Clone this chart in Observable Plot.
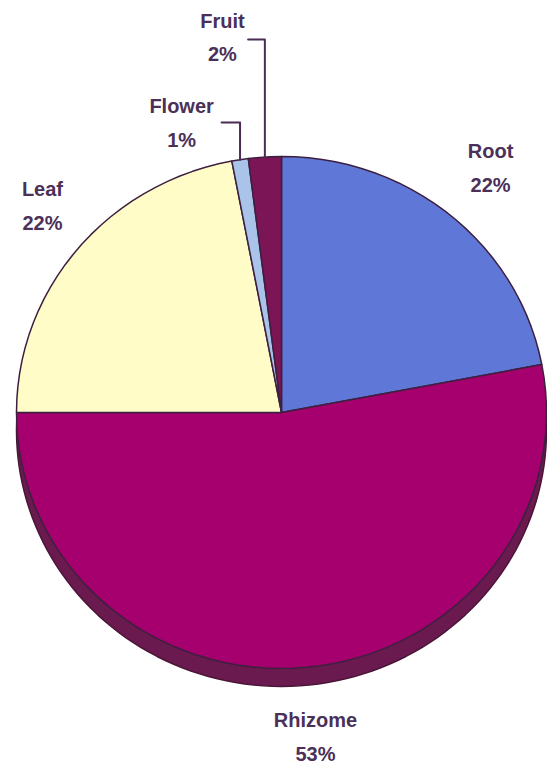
<!DOCTYPE html>
<html>
<head>
<meta charset="utf-8">
<script src="https://cdn.jsdelivr.net/npm/d3@7"></script>
<script src="https://cdn.jsdelivr.net/npm/@observablehq/plot@0.6"></script>
<style>
  html, body { margin: 0; padding: 0; background: #fff; }
  #chart svg { display: block; }
</style>
</head>
<body>
<div id="chart"></div>
<script>
// ---- data ----
const categories = ["Root", "Rhizome", "Leaf", "Flower", "Fruit"];
const shares = [22, 53, 22, 1, 2];
const shareLabels = ["22%", "53%", "22%", "1%", "2%"];
const colors = ["#5f77d6", "#a6006e", "#fffcc8", "#a9c3e9", "#7b1555"];

// ---- layout (unit ellipse coordinates) ----
const labelX = [0.789, 0.128, -0.902, -0.377, -0.223];
const labelY = [0.969, -1.252, 0.82, 1.145, 1.48];
const leaderStartX = [null, null, null, -0.226, -0.126];
const leaderY = [null, null, null, 1.133, 1.457];
const depth = 0.07;
const steps = 120;

const pie = d3.pie().sort(null).value(d => d)(shares);

// slice polygons
const slicePts = [];
pie.forEach((p, i) => {
  const n = Math.max(2, Math.ceil(steps * (p.endAngle - p.startAngle) / (2 * Math.PI)));
  slicePts.push({name: categories[i], x: 0, y: 0});
  for (let k = 0; k <= n; k++) {
    const a = p.startAngle + (p.endAngle - p.startAngle) * k / n;
    slicePts.push({name: categories[i], x: Math.sin(a), y: Math.cos(a)});
  }
  slicePts.push({name: categories[i], x: 0, y: 0});
});

// depth (side) ellipse
const sidePts = d3.range(0, 361, 2).map(d => {
  const a = d * Math.PI / 180;
  return {x: Math.sin(a), y: Math.cos(a) - depth};
});

// labels
const labels = categories.map((c, i) => ({text: c + "\n" + shareLabels[i], x: labelX[i], y: labelY[i]}));

// leader lines for small slices
const leaders = [];
pie.forEach((p, i) => {
  if (leaderStartX[i] == null) return;
  const m = (p.startAngle + p.endAngle) / 2;
  const ax = Math.sin(m), ay = Math.cos(m);
  leaders.push({name: categories[i], x: leaderStartX[i], y: leaderY[i]});
  leaders.push({name: categories[i], x: ax, y: leaderY[i]});
  leaders.push({name: categories[i], x: ax, y: ay});
});

const chart = Plot.plot({
  width: 547,
  height: 766,
  margin: 0,
  x: {domain: [-1, 1], range: [16, 546], axis: null},
  y: {domain: [-1, 1], range: [668, 156], axis: null},
  color: {domain: categories, range: colors},
  marks: [
    Plot.line(sidePts, {x: "x", y: "y", fill: "#6a1a4e", stroke: "#4a1538", strokeWidth: 1.5, curve: "linear"}),
    Plot.line(slicePts, {x: "x", y: "y", z: "name", fill: "name", stroke: "#3d2040", strokeWidth: 1.5, strokeLinejoin: "round", curve: "linear"}),
    Plot.line(leaders, {x: "x", y: "y", z: "name", stroke: "#4b2a55", strokeWidth: 2, curve: "linear"}),
    Plot.text(labels, {x: "x", y: "y", text: "text", fill: "#4b3058", fontSize: 20, fontWeight: "bold", fontFamily: "Liberation Sans, Arial, sans-serif", lineHeight: 1.7, textAnchor: "middle"})
  ]
});
document.getElementById("chart").appendChild(chart);
</script>
</body>
</html>
